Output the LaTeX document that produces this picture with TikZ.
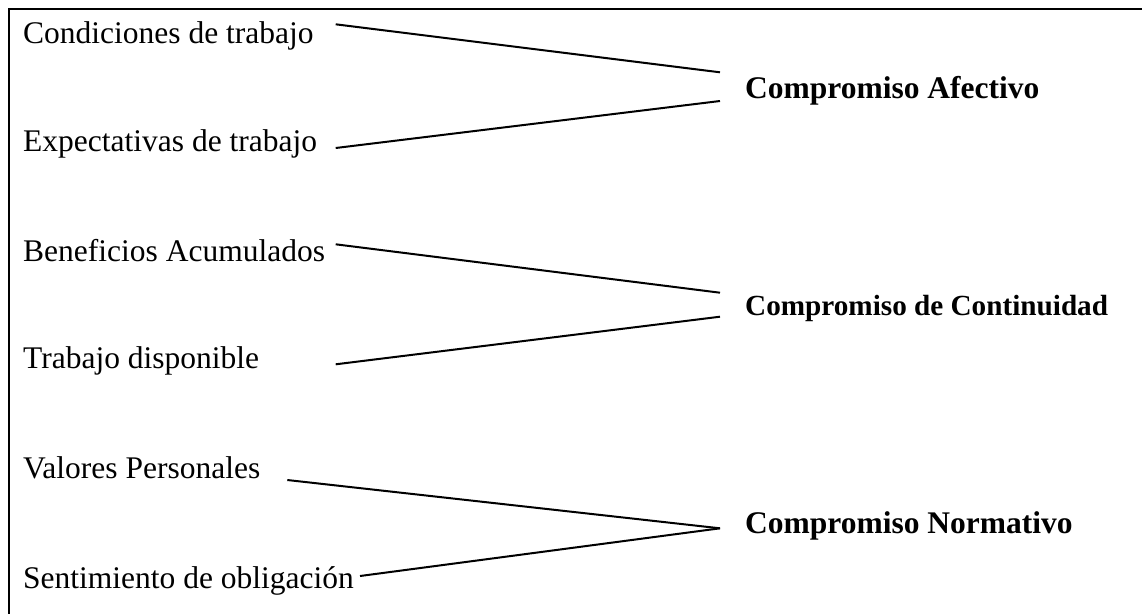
\documentclass[tikz,border=0pt]{standalone}
\usepackage{fontspec}
\setmainfont{Liberation Serif}
\begin{document}
\begin{tikzpicture}[x=1pt,y=-1pt,
  lbl/.style={anchor=base west,inner sep=0pt,font=\fontsize{31.5}{38}\selectfont},
  res/.style={lbl,font=\fontsize{31.5}{38}\selectfont\bfseries},
  conn/.style={line width=2pt},
  frame/.style={line width=2.5pt}]
\useasboundingbox (0,0) rectangle (1142,614);
\coordinate (ftr) at (1142,9);
\coordinate (ftl) at (9,9);
\coordinate (fbl) at (9,614);
\draw[frame] (ftr) -- (ftl) -- (fbl);

\node[lbl] (c1) at (23,43.3) {Condiciones de trabajo};
\node[lbl] (c2) at (23,151.7) {Expectativas de trabajo};
\node[res] (r1) at (745,98.3) {Compromiso Afectivo};
\node[lbl] (c3) at (23,261.7) {Beneficios Acumulados};
\node[lbl] (c4) at (23,368) {Trabajo disponible};
\node[res,font=\fontsize{29.2}{35}\selectfont\bfseries] (r2) at (745,315) {Compromiso de Continuidad};
\node[lbl] (c5) at (23,478) {Valores Personales};
\node[lbl] (c6) at (23,588) {Sentimiento de obligación};
\node[res] (r3) at (745,533) {Compromiso Normativo};

\coordinate (s1) at (335.7,24.3);
\coordinate (e1) at (720,72.3);
\coordinate (s2) at (335.7,148);
\coordinate (e2) at (720,101);
\coordinate (s3) at (335.7,244.3);
\coordinate (e3) at (720,292.7);
\coordinate (s4) at (335.7,364.3);
\coordinate (e4) at (720,316.7);
\coordinate (s5) at (287.3,480);
\coordinate (s6) at (360,576);
\coordinate (e5) at (720,528.3);

\draw[conn] (s1) -- (e1);
\draw[conn] (s2) -- (e2);
\draw[conn] (s3) -- (e3);
\draw[conn] (s4) -- (e4);
\draw[conn] (s5) -- (e5);
\draw[conn] (s6) -- (e5);
\end{tikzpicture}
\end{document}
